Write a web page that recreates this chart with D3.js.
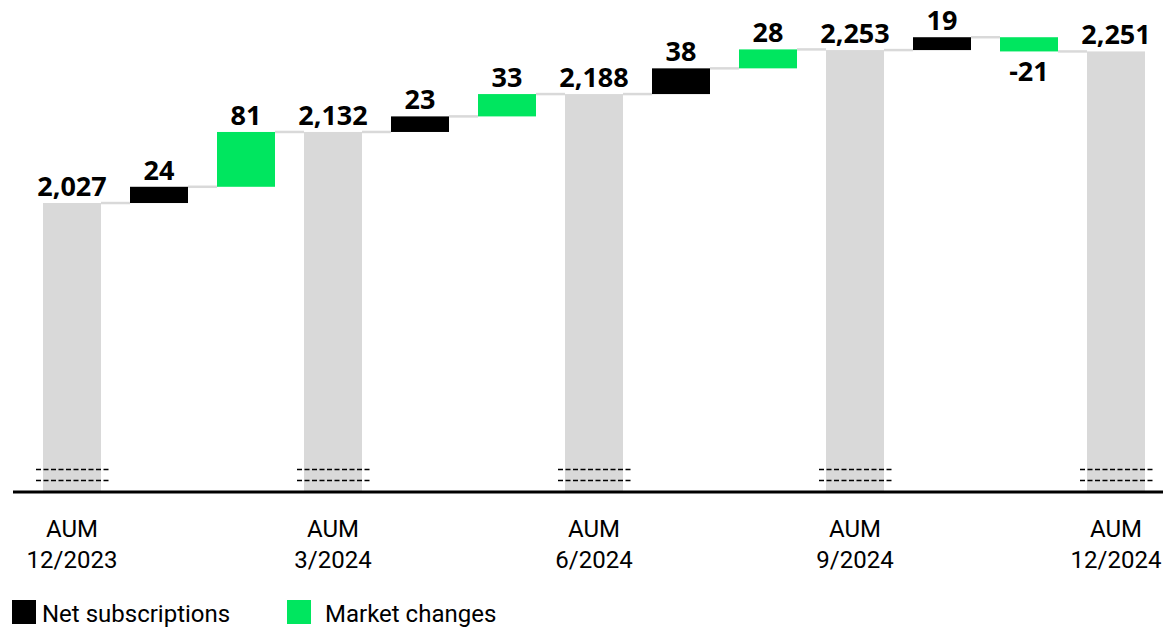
<!DOCTYPE html>
<html>
<head>
<meta charset="utf-8">
<script src="https://cdn.jsdelivr.net/npm/d3@7"></script>
<style>
  body { margin: 0; background: #fff; }
  svg { display: block; font-family: Roboto, sans-serif; }
</style>
</head>
<body>
<svg id="chart" width="1168" height="629"></svg>
<script>
// data
var steps = ["aum1", "ns1", "mc1", "aum2", "ns2", "mc2", "aum3", "ns3", "mc3", "aum4", "ns4", "mc4", "aum5"];
var kinds = ["total", "net", "market", "total", "net", "market", "total", "net", "market", "total", "net", "market", "total"];
var values = [2027, 24, 81, 2132, 23, 33, 2188, 38, 28, 2253, 19, -21, 2251];
var totalLabels = [["AUM", "12/2023"], ["AUM", "3/2024"], ["AUM", "6/2024"], ["AUM", "9/2024"], ["AUM", "12/2024"]];
var legendItems = ["Net subscriptions", "Market changes"];

var svg = d3.select("svg#chart"),
    width = +svg.attr("width"),
    height = +svg.attr("height");

var color = { total: "#d9d9d9", net: "#000000", market: "#00e65f" };

var baseY = 492;

var x = d3.scaleBand()
    .domain(steps)
    .range([43, 1145])
    .paddingInner(1 / 3)
    .paddingOuter(0);

// broken axis: bars start at 1600
var y = d3.scaleLinear()
    .domain([1600, 2327])
    .range([baseY, 0]);

// build waterfall segments
var running = 0;
var bars = steps.map(function (s, i) {
  var v = values[i], lo, hi;
  if (kinds[i] === "total") {
    lo = y.domain()[0];
    hi = v;
    running = v;
  } else {
    lo = running;
    hi = running + v;
    running = hi;
  }
  return { id: s, kind: kinds[i], value: v, lo: Math.min(lo, hi), hi: Math.max(lo, hi), end: hi };
});

// connectors
var conn = svg.append("g").attr("stroke", "#d9d9d9").attr("stroke-width", 2.5);
bars.forEach(function (d, i) {
  if (i === bars.length - 1) return;
  conn.append("line")
    .attr("x1", x(d.id) + x.bandwidth())
    .attr("x2", x(bars[i + 1].id))
    .attr("y1", y(d.end))
    .attr("y2", y(d.end));
});

svg.append("g").selectAll("rect")
  .data(bars)
  .enter().append("rect")
    .attr("x", function (d) { return x(d.id); })
    .attr("width", x.bandwidth())
    .attr("y", function (d) { return y(d.hi); })
    .attr("height", function (d) { return y(d.lo) - y(d.hi); })
    .attr("fill", function (d) { return color[d.kind]; });

// break marks on total bars
var totals = bars.filter(function (d) { return d.kind === "total"; });
var brk = svg.append("g").attr("stroke", "#000").attr("stroke-width", 1.5).attr("stroke-dasharray", "5,2.5");
totals.forEach(function (d) {
  [469.5, 480.5].forEach(function (yy) {
    brk.append("line")
      .attr("x1", x(d.id) - 7)
      .attr("x2", x(d.id) + x.bandwidth() + 9)
      .attr("y1", yy)
      .attr("y2", yy);
  });
});

// axis line
svg.append("line")
  .attr("x1", 13).attr("x2", 1163)
  .attr("y1", baseY).attr("y2", baseY)
  .attr("stroke", "#000").attr("stroke-width", 3);

// value labels
var fmt = d3.format(",");
svg.append("g").selectAll("text")
  .data(bars)
  .enter().append("text")
    .attr("x", function (d) { return x(d.id) + x.bandwidth() / 2; })
    .attr("y", function (d) { return d.value < 0 ? y(d.lo) + 30 : y(d.hi) - 7; })
    .attr("text-anchor", "middle")
    .attr("font-family", "'Noto Sans', sans-serif")
    .attr("font-size", 27)
    .attr("font-weight", "bold")
    .attr("fill", "#000")
    .text(function (d) { return fmt(d.value).replace("\u2212", "-"); });

// category labels under total bars
var cat = svg.append("g").attr("font-size", 24).attr("fill", "#000").attr("text-anchor", "middle");
totals.forEach(function (d, i) {
  var t = cat.append("text").attr("x", x(d.id) + x.bandwidth() / 2);
  totalLabels[i].forEach(function (line, j) {
    t.append("tspan")
      .attr("x", x(d.id) + x.bandwidth() / 2)
      .attr("y", 537 + j * 31)
      .text(line);
  });
});

// legend
var leg = svg.append("g");
[["net", 12], ["market", 287]].forEach(function (e, i) {
  leg.append("rect")
    .attr("x", e[1]).attr("y", 600)
    .attr("width", 24).attr("height", 24)
    .attr("fill", color[e[0]]);
  leg.append("text")
    .attr("x", e[1] + (i === 0 ? 30 : 38))
    .attr("y", 622)
    .attr("font-size", 24)
    .attr("fill", "#000")
    .text(legendItems[i]);
});
</script>
</body>
</html>
